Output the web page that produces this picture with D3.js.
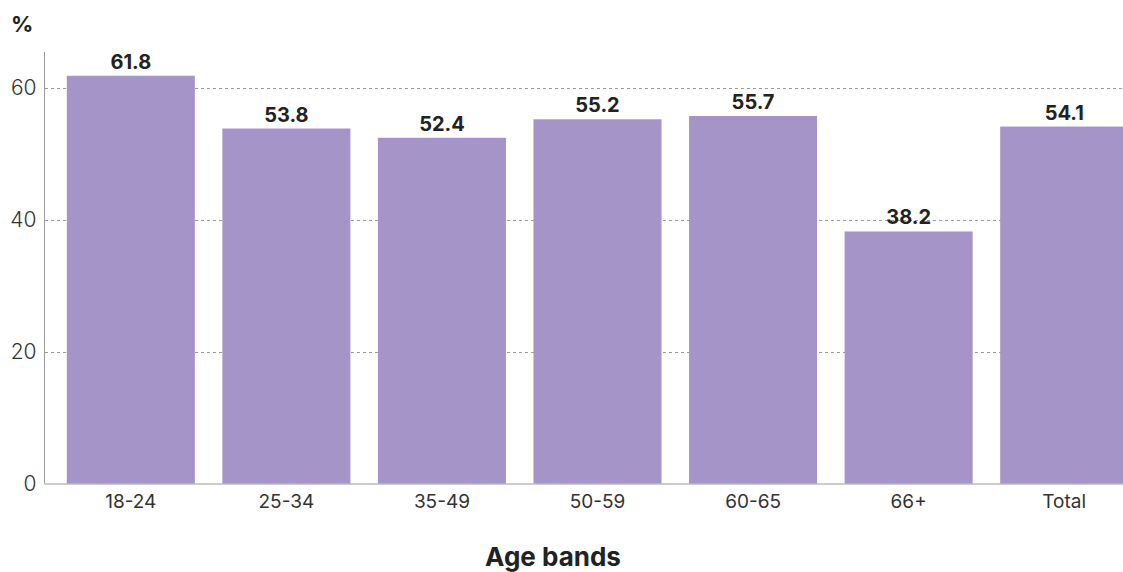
<!DOCTYPE html>
<html>
<head>
<meta charset="utf-8">
<script src="https://cdn.jsdelivr.net/npm/d3@7"></script>
<style>
  html, body { margin: 0; padding: 0; background: #fff; }
  svg { display: block; font-family: "Inter", "Lato", sans-serif; }
</style>
</head>
<body>
<svg id="chart" width="1123" height="572"></svg>
<script>
// Share of respondents by age band (%)
const categories = ["18-24", "25-34", "35-49", "50-59", "60-65", "66+", "Total"];
const values = [61.8, 53.8, 52.4, 55.2, 55.7, 38.2, 54.1];
const yTicks = [0, 20, 40, 60];
const yAxisUnit = "%";
const xAxisTitle = "Age bands";

const svg = d3.select("#chart");
const W = 1123, H = 572;
const plotLeft = 45, plotRight = 1150, plotBottom = 483.5, plotTop = 52;
const fontStack = "Inter, Lato, sans-serif";

const x = d3.scaleBand()
  .domain(categories)
  .range([plotLeft, plotRight])
  .paddingInner(0.177)
  .paddingOuter(0.14);

const y = d3.scaleLinear()
  .domain([0, 65.4])
  .range([plotBottom, plotTop]);

// dashed gridlines
svg.append("g")
  .selectAll("line")
  .data(yTicks.filter(d => d > 0))
  .join("line")
  .attr("x1", plotLeft)
  .attr("x2", W)
  .attr("y1", d => Math.round(y(d)) + 0.5)
  .attr("y2", d => Math.round(y(d)) + 0.5)
  .attr("stroke", "#9a9a9a")
  .attr("stroke-width", 1)
  .attr("stroke-dasharray", "3,3");

// bars
svg.append("g")
  .selectAll("rect")
  .data(values)
  .join("rect")
  .attr("x", (d, i) => x(categories[i]))
  .attr("width", x.bandwidth())
  .attr("y", d => y(d))
  .attr("height", d => y(0) - y(d))
  .attr("fill", "#a594c7");

// value labels
svg.append("g")
  .selectAll("text")
  .data(values)
  .join("text")
  .attr("x", (d, i) => x(categories[i]) + x.bandwidth() / 2)
  .attr("y", d => y(d) - 7)
  .attr("text-anchor", "middle")
  .attr("font-size", 20)
  .attr("font-weight", 700)
  .attr("fill", "#222")
  .text(d => d.toFixed(1));

// y axis
const yAxis = d3.axisLeft(y).tickValues(yTicks).tickSize(0).tickPadding(8);
const gy = svg.append("g").attr("transform", `translate(${plotLeft - 0.5},0)`).call(yAxis);
gy.select(".domain").attr("stroke", "#999").attr("d", `M0,${plotTop}V${plotBottom}`);
gy.selectAll("text")
  .attr("font-size", 21)
  .attr("font-weight", 300)
  .attr("fill", "#333")
  .attr("font-family", fontStack);

// x axis
const xAxis = d3.axisBottom(x).tickSize(0).tickPadding(11);
const gx = svg.append("g").attr("transform", `translate(0,${plotBottom + 0.5})`).call(xAxis);
gx.select(".domain").attr("stroke", "#999").attr("d", `M${plotLeft - 0.5},0H${W}`);
gx.selectAll("text")
  .attr("font-size", 19)
  .attr("font-weight", 400)
  .attr("fill", "#333")
  .attr("font-family", fontStack);

// unit label
svg.append("text")
  .attr("x", 11)
  .attr("y", 32)
  .attr("font-size", 22)
  .attr("font-weight", 700)
  .attr("fill", "#222")
  .text(yAxisUnit);

// axis title
svg.append("text")
  .attr("x", 553)
  .attr("y", 566)
  .attr("text-anchor", "middle")
  .attr("font-size", 26)
  .attr("font-weight", 700)
  .attr("fill", "#222")
  .text(xAxisTitle);
</script>
</body>
</html>
